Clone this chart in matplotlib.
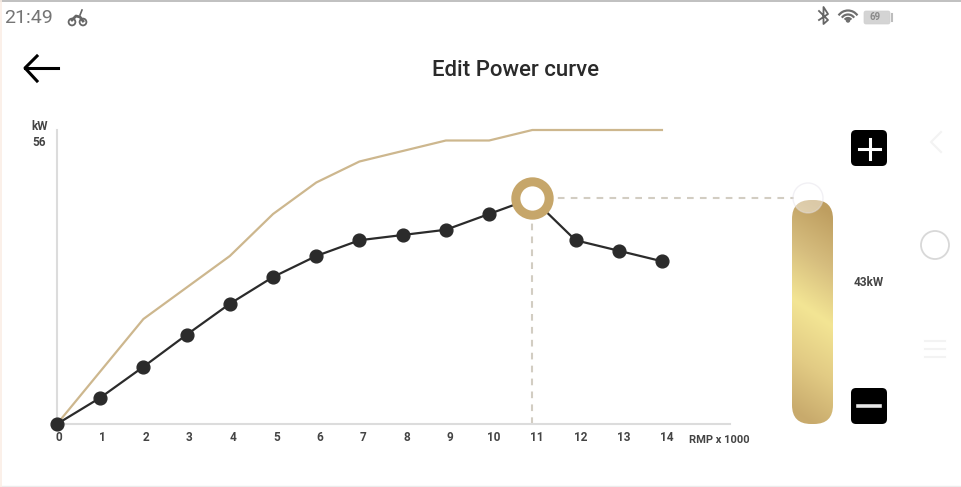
import matplotlib
matplotlib.use('Agg')
import matplotlib.pyplot as plt
import numpy as np
from matplotlib.patches import Arc, Circle, FancyBboxPatch

# power curve values
rpm = [0, 1, 2, 3, 4, 5, 6, 7, 8, 9, 10, 11, 12, 13, 14]
max_power = [0, 10, 20, 26, 32, 40, 46, 50, 52, 54, 54, 56, 56, 56, 56]
edit_power = [0, 5, 10.9, 17, 22.9, 28, 32, 35, 36, 37, 40, 43, 35, 33, 31]
selected_rpm = 11
selected_power = 43
tick_labels = [str(r) for r in rpm]

W, H = 961, 487
NARROW = ['Liberation Sans Narrow', 'Roboto', 'DejaVu Sans']
GOLD = '#cdb78e'
RING = '#c6a66a'
DARK = '#2b2b2b'
TEXT = '#444444'

fig = plt.figure(figsize=(W / 100, H / 100), dpi=100)
fig.patch.set_facecolor('white')

# main chart
ax = fig.add_axes([57 / W, 1 - 424 / H, (730 - 57) / W, (424 - 130) / H])
ax.set_xlim(0, 673 / 43.21)
ax.set_ylim(0, 56)
ax.patch.set_alpha(0)
for side in ['top', 'right']:
    ax.spines[side].set_visible(False)
for side in ['left', 'bottom']:
    ax.spines[side].set_color('#dcdcdc')
    ax.spines[side].set_linewidth(1.5)
ax.set_yticks([])

# labels sit slightly right of the points in the app
ax.set_xticks([0.05 + 1.005 * r for r in rpm])
ax.set_xticklabels(tick_labels, family=NARROW, fontweight='bold', fontsize=8.5, color=TEXT)
ax.tick_params(axis='x', length=0, pad=5)

ax.plot(rpm, max_power, color=GOLD, lw=1.6, clip_on=False, zorder=2)
ax.plot(rpm, edit_power, color=DARK, lw=1.6, marker='o', ms=9.2, mfc=DARK, mec=DARK,
        clip_on=False, zorder=3)

dash = dict(color='#d2cdc2', lw=1.5, dashes=(3.2, 3.0), clip_on=False, zorder=1)
ax.plot([selected_rpm, selected_rpm], [0, selected_power], **dash)
ax.plot([selected_rpm, 17.05], [selected_power, selected_power], **dash)
ax.plot([selected_rpm], [selected_power], marker='o', ms=24, mfc='white', mec=RING, mew=6.5,
        clip_on=False, zorder=4)

# everything around the chart, in screen pixels
ui = fig.add_axes([0, 0, 1, 1], zorder=5)
ui.set_xlim(0, W)
ui.set_ylim(H, 0)
ui.axis('off')
ui.patch.set_alpha(0)


def label(x, y, s, **kw):
    ui.text(x, y, s, ha='center', va='center', **kw)


def round_box(x0, y0, x1, y1, r, **kw):
    p = FancyBboxPatch((x0 + r, y0 + r), x1 - x0 - 2 * r, y1 - y0 - 2 * r,
                       boxstyle=f'round,pad={r},rounding_size={r}', **kw)
    ui.add_patch(p)
    return p


# screen edges
ui.plot([0, W], [0.5, 0.5], color='#b5b5b5', lw=1.2)
ui.plot([0, W], [486, 486], color='#ececec', lw=1)
ui.plot([0.5, 0.5], [0, H], color='#fbeee5', lw=1.2)

# status bar
label(28.5, 18, '21:49', family='Roboto', fontsize=14, color='#757575')
for cx in [72, 83]:
    ui.add_patch(Circle((cx, 22), 3.4, fc='none', ec='#666666', lw=1.3))
ui.plot([72, 76, 80, 83], [20, 16, 17, 21], color='#666666', lw=2)
ui.plot([80, 82], [15, 10], color='#666666', lw=1.2)

ui.plot([819, 828, 823.5, 823.5, 828, 819], [11, 20, 24, 7, 14, 20], color='#666666', lw=1.3)
for diam in [23, 15, 8]:
    ui.add_patch(Arc((848, 22), diam, diam, theta1=215, theta2=325, color='#6e6e6e', lw=1.6))
ui.add_patch(Circle((848, 20.5), 1.5, color='#6e6e6e'))
round_box(864, 11, 890, 24, 2, fc='#d4d4d4', ec='#cfcfcf', lw=0.5)
ui.plot([892, 892], [14, 21], color='#bdbdbd', lw=1.5)
label(875, 17.5, '69', family=NARROW, fontweight='bold', fontsize=7, color='#8a8a8a')

# header
ui.plot([25, 58], [68, 68], color='black', lw=2.2)
ui.plot([37, 25, 37], [56, 68, 81], color='black', lw=2.2)
label(515, 70, 'Edit Power curve', family='Roboto', fontweight='medium', fontsize=16, color='#2a2a2a')

# axis captions
label(40, 126, 'kW', family=NARROW, fontweight='bold', fontsize=8.5, color=TEXT)
label(39, 142, '56', family=NARROW, fontweight='bold', fontsize=8.5, color=TEXT)
label(719, 440, 'RMP x 1000', family=NARROW, fontweight='bold', fontsize=8, color=TEXT)

# slider with a diagonal gold gradient
yy, xx = np.mgrid[0:1:224j, 0:1:41j]
pos = yy + 0.12 * (0.5 - xx)
stops = [0, 0.25, 0.5, 0.75, 1]
channels = [[190, 214, 243, 226, 200], [158, 189, 229, 203, 170], [96, 126, 148, 132, 108]]
grad = np.dstack([np.interp(pos, stops, c) for c in channels]) / 255
im = ui.imshow(grad, extent=(792, 833, 424, 200), aspect='auto', zorder=2)
clip = round_box(792, 200, 833, 424, 19, fc='none', ec='none')
im.set_clip_path(clip)
ui.set_xlim(0, W)
ui.set_ylim(H, 0)

ui.add_patch(Circle((808, 198), 15, fc='white', ec='#e2dfe8', lw=1, alpha=0.45, zorder=3))
label(869, 283, '43kW', family=NARROW, fontweight='bold', fontsize=8.5, color=TEXT)

# plus and minus buttons
round_box(851, 130, 887, 166, 5, fc='black', ec='none')
ui.plot([859, 880], [149, 149], color='white', lw=2.2)
ui.plot([869.5, 869.5], [139, 159], color='white', lw=2.2)
round_box(851, 388, 887, 424, 5, fc='black', ec='none')
ui.plot([858, 880], [406, 406], color='#e8e8e8', lw=2.6)

# android nav buttons
ui.plot([941, 931, 941], [132, 142, 152], color='#f3f3f3', lw=1.5)
ui.add_patch(Circle((935, 245), 14, fc='white', ec='#d8d8d8', lw=1.3))
for y in [341, 349, 357]:
    ui.plot([925, 945], [y, y], color='#f3f3f3', lw=1.5)

fig.savefig('out.png', dpi=100)
